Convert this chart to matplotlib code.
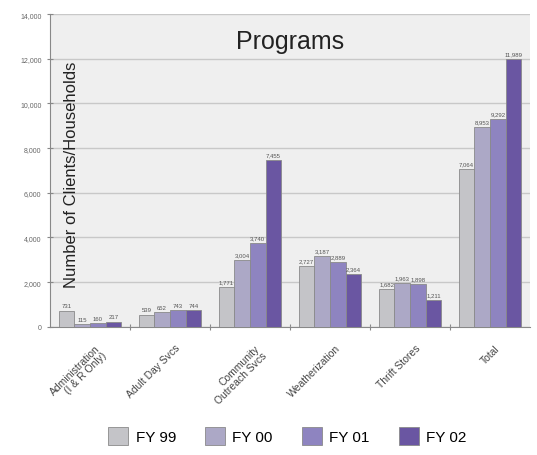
import numpy as np
import matplotlib
matplotlib.use('Agg')
import matplotlib.pyplot as plt

# data
categories = ['Administration\n(I & R Only)', 'Adult Day Svcs', 'Community\nOutreach Svcs',
              'Weatherization', 'Thrift Stores', 'Total']
years = ['FY 99', 'FY 00', 'FY 01', 'FY 02']
fy99 = [731, 539, 1771, 2727, 1682, 7064]
fy00 = [115, 652, 3004, 3187, 1963, 8953]
fy01 = [160, 743, 3740, 2889, 1898, 9292]
fy02 = [217, 744, 7455, 2364, 1211, 11989]
series = [fy99, fy00, fy01, fy02]
colors = ['#c4c4c8', '#aca8c6', '#8e84c0', '#6a56a2']

plt.rcParams['font.family'] = ['Liberation Sans', 'DejaVu Sans']

fig = plt.figure(figsize=(5.37, 4.56), dpi=100)
ax = fig.add_axes([0.093, 0.281, 0.894, 0.686])
ax.set_facecolor('#efefef')

n = np.arange(len(categories))
width = 0.195
for i, (vals, col) in enumerate(zip(series, colors)):
    xs = n + (i - 1.5) * width
    ax.bar(xs, vals, width=width, color=col, edgecolor='#8a8a8a', linewidth=0.6,
           label=years[i], zorder=3)
    for x, v in zip(xs, vals):
        ax.text(x, v + 120, f'{v:,}', ha='center', va='bottom', fontsize=4.3,
                color='#555555', zorder=4)

ax.set_xlim(-0.5, 5.5)
ax.set_ylim(0, 14000)
ax.set_yticks(np.arange(0, 14001, 2000))
ax.set_yticklabels([f'{v:,}' for v in range(0, 14001, 2000)], fontsize=5, color='#666666')
ax.yaxis.grid(True, color='#c8c8c8', linewidth=1.0, zorder=0)
ax.tick_params(axis='y', direction='inout', length=5, color='#888888')

ax.set_xticks(n[:-1] + 0.5)
ax.set_xticklabels([])
ax.tick_params(axis='x', direction='inout', length=5, color='#888888')
for x, lab in zip(n, categories):
    ax.text(x + 0.06, -700, lab, rotation=45, ha='right', va='top', fontsize=7.5,
            color='#444444', rotation_mode='anchor', linespacing=1.0)

for side in ['top', 'right']:
    ax.spines[side].set_visible(False)
ax.spines['left'].set_color('#888888')
ax.spines['bottom'].set_color('#888888')

ax.text(0.5, 0.915, 'Programs', transform=ax.transAxes, ha='center', va='center',
        fontsize=18, color='#222222')
ax.text(0.045, 0.49, 'Number of Clients/Households', transform=ax.transAxes,
        rotation=90, ha='center', va='center', fontsize=12, color='#222222')

fig.legend(loc='center', bbox_to_anchor=(0.535, 0.042), ncol=4, frameon=False,
           fontsize=11, handlelength=1.3, handleheight=1.4, columnspacing=1.9,
           handletextpad=0.5)

fig.savefig('out.png', dpi=100)
